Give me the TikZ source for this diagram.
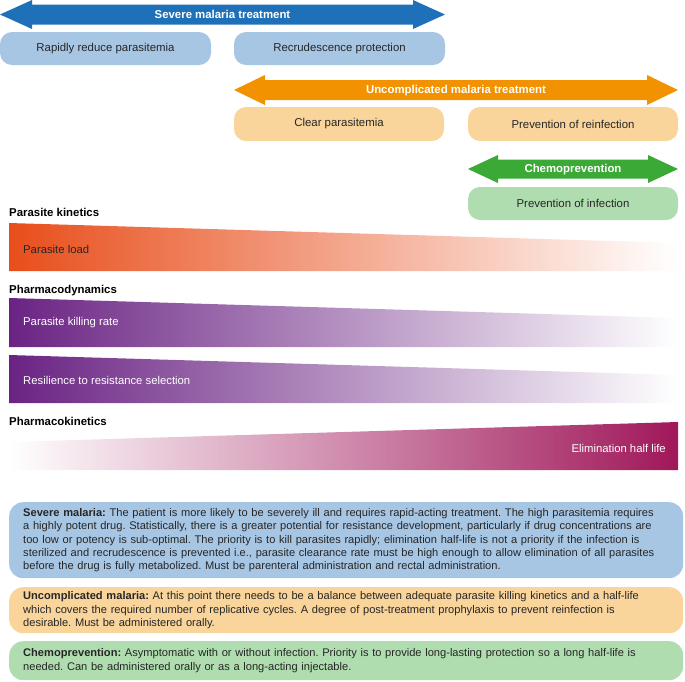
\documentclass[tikz,border=0pt]{standalone}
\usepackage{fontspec}
\setmainfont{Liberation Sans}
\usetikzlibrary{positioning}
\definecolor{bluedk}{HTML}{1E70B8}
\definecolor{bluelt}{HTML}{A7C6E4}
\definecolor{orgdk}{HTML}{F39200}
\definecolor{orglt}{HTML}{F9D49B}
\definecolor{grndk}{HTML}{3AA935}
\definecolor{grnlt}{HTML}{B0DDAF}
\definecolor{pkred}{HTML}{E84E1B}
\definecolor{pdpur}{HTML}{6A2383}
\definecolor{pkmag}{HTML}{A0185A}
\definecolor{txt}{HTML}{262626}
\frenchspacing
\tikzset{
  pill/.style={rectangle,rounded corners=12pt,minimum width=211pt,minimum height=33pt,align=center,font=\fontsize{11.4}{13}\selectfont,text=txt},
  arrtxt/.style={font=\bfseries\fontsize{11.4}{13}\selectfont,text=white,inner sep=0pt},
  hd/.style={anchor=west,font=\bfseries\fontsize{11.4}{13}\selectfont,inner sep=0pt},
  lbl/.style={anchor=west,font=\fontsize{11.3}{13}\selectfont,inner sep=0pt},
  note/.style={rectangle,rounded corners=14pt,text width=646pt,inner xsep=14pt,inner ysep=2pt,align=left,anchor=north west,font=\fontsize{11.1}{13.3}\selectfont,text=txt},
}

\begin{document}
\begin{tikzpicture}[x=1pt,y=-1pt]
  \useasboundingbox (0,0) rectangle (685,681);
  % treatment arrows
  \fill[bluedk] (0,14.5) -- (32,0) -- (32,4.5) -- (413,4.5) -- (413,0) -- (445,14.5) -- (413,29) -- (413,24.5) -- (32,24.5) -- (32,29) -- cycle;
  \node[arrtxt] (sev) at (222.5,14.5) {Severe malaria treatment};
  \node[pill,fill=bluelt] (rrp) at (105.5,48.5) {Rapidly reduce parasitemia};
  \node[pill,fill=bluelt] (rcp) at (339.5,48.5) {Recrudescence protection};

  \fill[orgdk] (234,90) -- (265,75) -- (265,80) -- (647,80) -- (647,75) -- (678,90) -- (647,105) -- (647,100) -- (265,100) -- (265,105) -- cycle;
  \node[arrtxt] (unc) at (456,91) {Uncomplicated malaria treatment};
  \node[pill,fill=orglt,minimum width=210pt,minimum height=34pt] (clr) at (339,124) {Clear parasitemia};
  \node[pill,fill=orglt,minimum width=210pt,minimum height=34pt] (rei) at (573,124) {Prevention of reinfection};

  \fill[grndk] (468,169) -- (498,155) -- (498,159.5) -- (648,159.5) -- (648,155) -- (678,169) -- (648,183) -- (648,178.5) -- (498,178.5) -- (498,183) -- cycle;
  \node[arrtxt] (chm) at (573,169.5) {Chemoprevention};
  \node[pill,fill=grnlt,minimum width=210pt] (inf) at (573,203.5) {Prevention of infection};

  % kinetics wedges
  \node[hd] (pk) at (9,212.5) {Parasite kinetics};
  \shade[left color=pkred,right color=white] (9,223) -- (678,243) -- (678,271) -- (9,271) -- cycle;
  \node[lbl,text=txt] (load) at (23,249) {Parasite load};

  \node[hd] (pd) at (9,291) {Pharmacodynamics};
  \shade[left color=pdpur,right color=white] (9,298) -- (678,318) -- (678,347) -- (9,347) -- cycle;
  \node[lbl,text=white] (kill) at (23,323) {Parasite killing rate};
  \shade[left color=pdpur,right color=white] (9,355) -- (678,375) -- (678,403) -- (9,403) -- cycle;
  \node[lbl,text=white] (res) at (23,380) {Resilience to resistance selection};

  \node[hd] (pkin) at (9,421) {Pharmacokinetics};
  \shade[left color=white,right color=pkmag] (9,442) -- (678,422) -- (678,470) -- (9,470) -- cycle;
  \node[lbl,anchor=east,text=white] (elim) at (666,448) {Elimination half life};

  % notes
  \node[note,fill=bluelt,minimum height=76pt] (nsev) at (9,502) {\textbf{Severe malaria:} The patient is more likely to be severely ill and requires rapid-acting treatment. The high parasitemia requires\\a highly potent drug. Statistically, there is a greater potential for resistance development, particularly if drug concentrations are\\too low or potency is sub-optimal. The priority is to kill parasites rapidly; elimination half-life is not a priority if the infection is\\sterilized and recrudescence is prevented i.e., parasite clearance rate must be high enough to allow elimination of all parasites\\before the drug is fully metabolized. Must be parenteral administration and rectal administration.};
  \node[note,fill=orglt,minimum height=46pt] (nunc) at (9,587) {\textbf{Uncomplicated malaria:} At this point there needs to be a balance between adequate parasite killing kinetics and a half-life\\which covers the required number of replicative cycles. A degree of post-treatment prophylaxis to prevent reinfection is\\desirable. Must be administered orally.};
  \node[note,fill=grnlt,minimum height=39pt] (nchm) at (9,641) {\textbf{Chemoprevention:} Asymptomatic with or without infection. Priority is to provide long-lasting protection so a long half-life is\\needed. Can be administered orally or as a long-acting injectable.};
\end{tikzpicture}
\end{document}
